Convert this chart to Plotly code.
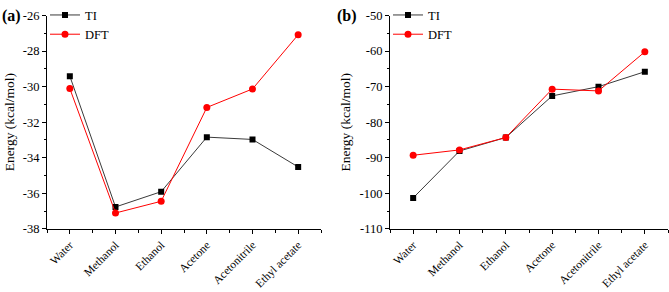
import plotly.graph_objects as go

categories = ["Water", "Methanol", "Ethanol", "Acetone", "Acetonitrile", "Ethyl acetate"]
ti_a = [-29.41, -36.77, -35.91, -32.84, -32.97, -34.52]
dft_a = [-30.11, -37.11, -36.45, -31.17, -30.13, -27.08]
ti_b = [-101.3, -88.1, -84.3, -72.6, -70.0, -65.8]
dft_b = [-89.3, -87.8, -84.3, -70.7, -71.2, -60.2]
yticks_a = [-38, -36, -34, -32, -30, -28, -26]
yticks_b = [-110, -100, -90, -80, -70, -60, -50]

FONT = "Times New Roman, Liberation Serif, serif"
xi = list(range(len(categories)))

fig = go.Figure()

def add_pair(ti, dft, xa, ya, legend):
    fig.add_trace(go.Scatter(x=xi, y=ti, name="TI", mode="lines+markers",
                             line=dict(color="#3a3a3a", width=1),
                             marker=dict(symbol="square", size=6, color="black"),
                             xaxis=xa, yaxis=ya, legend=legend))
    fig.add_trace(go.Scatter(x=xi, y=dft, name="DFT", mode="lines+markers",
                             line=dict(color="#ff0000", width=1),
                             marker=dict(symbol="circle", size=7, color="#ff0000"),
                             xaxis=xa, yaxis=ya, legend=legend))

add_pair(ti_a, dft_a, "x", "y", "legend")
add_pair(ti_b, dft_b, "x2", "y2", "legend2")

H = 292.0
W = 669.0
ydom = [1 - 233 / H, 1 - 9 / H]

xcommon = dict(range=[-0.5, 5.5], tickmode="array", tickvals=xi, ticktext=categories,
               tickangle=-45, ticks="outside", ticklen=4, tickwidth=1, tickcolor="black",
               showline=True, linecolor="black", linewidth=1, showgrid=False, zeroline=False,
               minor=dict(tickmode="array", tickvals=[i + 0.5 for i in range(-1, 6)],
                          ticks="outside", ticklen=3, tickcolor="black"),
               tickfont=dict(family=FONT, size=11.5, color="black"))
ycommon = dict(ticks="outside", ticklen=4, tickwidth=1, tickcolor="black",
               showline=True, linecolor="black", linewidth=1, showgrid=False, zeroline=False,
               tickfont=dict(family=FONT, size=12.5, color="black"),
               title=dict(text="Energy (kcal/mol)", font=dict(family=FONT, size=13.5, color="black"),
                          standoff=5))

fig.update_layout(
    width=669, height=292, margin=dict(l=0, r=0, t=0, b=0),
    plot_bgcolor="white", paper_bgcolor="white",
    xaxis=dict(domain=[47 / W, 321 / W], anchor="y", **xcommon),
    xaxis2=dict(domain=[390 / W, 668 / W], anchor="y2", **xcommon),
    yaxis=dict(domain=ydom, anchor="x", range=[-38, -26], tickmode="array",
               tickvals=yticks_a, ticktext=[str(v) for v in yticks_a],
               minor=dict(tickmode="array", tickvals=[v + 1 for v in yticks_a[:-1]],
                          ticks="outside", ticklen=2, tickcolor="black"), **ycommon),
    yaxis2=dict(domain=ydom, anchor="x2", range=[-110, -50], tickmode="array",
                tickvals=yticks_b, ticktext=[str(v) for v in yticks_b],
                minor=dict(tickmode="array", tickvals=[v + 5 for v in yticks_b[:-1]],
                           ticks="outside", ticklen=2, tickcolor="black"), **ycommon),
    legend=dict(x=45 / W, y=1 + 7 / H, xanchor="left", yanchor="top",
                bgcolor="rgba(0,0,0,0)", itemwidth=30, tracegroupgap=0,
                font=dict(family=FONT, size=12.5, color="black")),
    legend2=dict(x=388 / W, y=1 + 7 / H, xanchor="left", yanchor="top",
                 bgcolor="rgba(0,0,0,0)", itemwidth=30, tracegroupgap=0,
                 font=dict(family=FONT, size=12.5, color="black")),
    annotations=[
        dict(text="<b>(a)</b>", x=0, y=1 - 9 / H, xref="paper", yref="paper",
             xanchor="left", yanchor="middle", showarrow=False,
             font=dict(family=FONT, size=16, color="black")),
        dict(text="<b>(b)</b>", x=335 / W, y=1 - 9 / H, xref="paper", yref="paper",
             xanchor="left", yanchor="middle", showarrow=False,
             font=dict(family=FONT, size=16, color="black")),
    ],
)

fig.write_html("out.html", config={"displayModeBar": False},
               post_script="document.body.style.margin='0';")
